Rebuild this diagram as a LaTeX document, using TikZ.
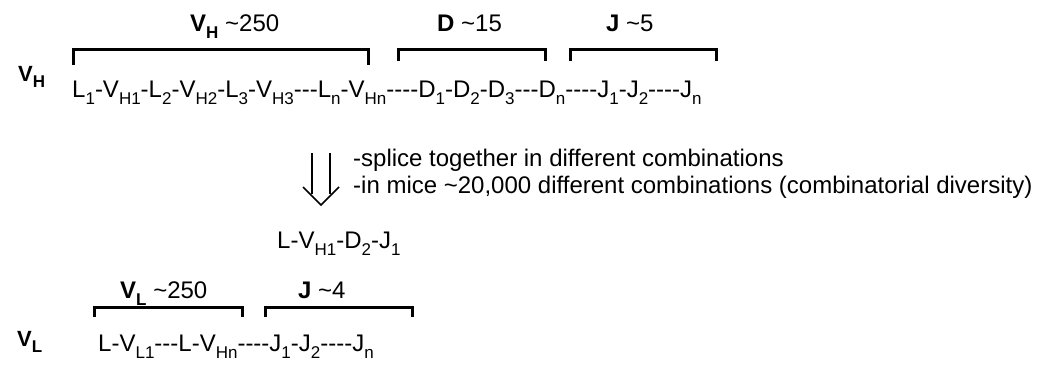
\documentclass[tikz,border=0pt]{standalone}
\usepackage{fontspec}
\setmainfont{Liberation Sans}[Ligatures=TeXOff]
\newcommand\sbs[1]{\raisebox{-0.3em}{\fontsize{17}{17}\selectfont #1}}
\newcommand\tl{\textasciitilde}
\begin{document}
\begin{tikzpicture}[x=1pt,y=-1pt,
  txt/.style={anchor=base west,inner sep=0pt,font=\fontsize{24}{28}\selectfont},
  lbl/.style={anchor=base west,inner sep=0pt,font=\fontsize{22}{26}\selectfont\bfseries},
  brk/.style={line width=3pt},
  arr/.style={line width=1.7pt}]
\useasboundingbox (0,0) rectangle (1041,367);
% top labels
\node[txt] (lvh) at (190,31) {\textbf{V\sbs{H}} \tl250};
\node[txt] (ld) at (437,31) {\textbf{D} \tl15};
\node[txt] (lj) at (606,31) {\textbf{J} \tl5};
\draw[brk] (73,65) -- (73,49) -- (368,49) -- (368,65);
\draw[brk] (398,61) -- (398,49) -- (545,49) -- (545,61);
\draw[brk] (570,61) -- (570,49) -- (716,49) -- (716,61);
% row H
\node[lbl] (vh) at (18,81) {V\sbs{H}};
\node[txt] (rowh) at (72,97) {L\sbs{1}-V\sbs{H1}-L\sbs{2}-V\sbs{H2}-L\sbs{3}-V\sbs{H3}---L\sbs{n}-V\sbs{Hn}----D\sbs{1}-D\sbs{2}-D\sbs{3}---D\sbs{n}----J\sbs{1}-J\sbs{2}----J\sbs{n}};
% arrow
\draw[arr] (312,153) -- (312,194);
\draw[arr] (330,153) -- (330,194);
\draw[arr] (303,187) -- (321,205) -- (339,187);
\node[txt] (t1) at (353,166) {-splice together in different combinations};
\node[txt] (t2) at (353,193) {-in mice \tl20,000 different combinations (combinatorial diversity)};
\node[txt] (res) at (277,248) {L-V\sbs{H1}-D\sbs{2}-J\sbs{1}};
% light chain
\node[txt] (lvl) at (120,298) {\textbf{V\sbs{L}} \tl250};
\node[txt] (lj4) at (298,298) {\textbf{J} \tl4};
\draw[brk] (94,317) -- (94,307) -- (242,307) -- (242,317);
\draw[brk] (265,317) -- (265,307) -- (412,307) -- (412,317);
\node[lbl] (vl) at (17,346) {V\sbs{L}};
\node[txt] (rowl) at (98,351) {L-V\sbs{L1}---L-V\sbs{Hn}----J\sbs{1}-J\sbs{2}----J\sbs{n}};
\end{tikzpicture}
\end{document}
